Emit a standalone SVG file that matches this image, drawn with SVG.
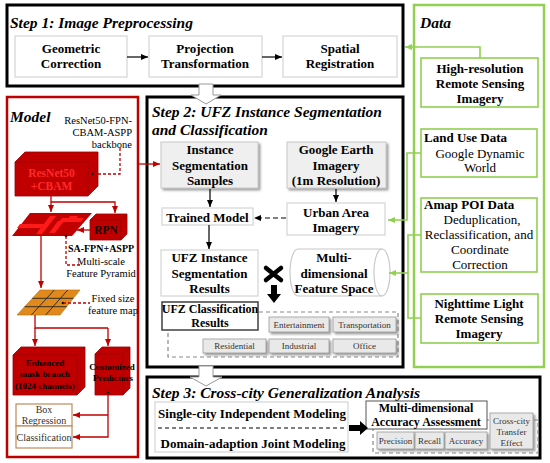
<svg xmlns="http://www.w3.org/2000/svg" width="550" height="463" viewBox="0 0 550 463">
<defs>
<style>
text{font-family:"Liberation Serif","Times New Roman",serif;fill:#000}
.t{font-size:15.5px;font-weight:bold;font-style:italic}
.b13{font-size:13px;font-weight:bold;text-anchor:middle}
.b12{font-size:12px;font-weight:bold;text-anchor:middle}
.bl13{font-size:13px;font-weight:bold}
.n13{font-size:13px;text-anchor:middle}
.n10{font-size:10.5px;text-anchor:middle}
.n9{font-size:9px;text-anchor:middle;fill:#333}
.b9{font-size:9px;font-weight:bold;text-anchor:middle}
.step{fill:#fff;stroke:#000;stroke-width:3}
.lg{fill:#fff;stroke:#d4d4d4;stroke-width:1.2}
.gb{fill:#efefef;stroke:#c8c8c8;stroke-width:1}
.sm{fill:#e9e9e9;stroke:#9a9a9a;stroke-width:0.8}
.grn{fill:#fff;stroke:#92d050;stroke-width:1.6}
.cube{fill:#c00000;stroke:#9a0000;stroke-width:0.8}
.ln{fill:none;stroke:#000;stroke-width:1.2}
.rl{fill:none;stroke:#c00000;stroke-width:1.3}
.gl{fill:none;stroke:#92d050;stroke-width:1.6}
.dash{fill:none;stroke:#888;stroke-width:1.2;stroke-dasharray:4 3}
</style>
<marker id="ab" markerWidth="8" markerHeight="8" refX="7" refY="4" orient="auto" markerUnits="userSpaceOnUse"><path d="M0,1 L7,4 L0,7 Z" fill="#000"/></marker>
<marker id="ar" markerWidth="8" markerHeight="8" refX="7" refY="4" orient="auto" markerUnits="userSpaceOnUse"><path d="M0,1 L7,4 L0,7 Z" fill="#c00000"/></marker>
<marker id="ag" markerWidth="8" markerHeight="8" refX="7" refY="4" orient="auto" markerUnits="userSpaceOnUse"><path d="M0,1 L7,4 L0,7 Z" fill="#92d050"/></marker>
<filter id="sh" x="-10%" y="-10%" width="130%" height="140%"><feDropShadow dx="2" dy="2" stdDeviation="1.2" flood-color="#777" flood-opacity="0.7"/></filter>
</defs>

<!-- Containers -->
<g id="step1">
<rect class="step" x="7" y="5" width="396" height="81"/>
<text class="t" x="10" y="28">Step 1: Image Preprocessing</text>
</g>
<g id="data">
<rect x="414" y="5" width="130" height="362" fill="#fff" stroke="#92d050" stroke-width="2.5"/>
<text class="t" x="420" y="28">Data</text>
</g>
<g id="model">
<rect x="7" y="97" width="131" height="360" fill="#fff" stroke="#c00000" stroke-width="2.5"/>
<text class="t" x="10" y="122">Model</text>
</g>
<g id="step2">
<rect class="step" x="147" y="97" width="256" height="270"/>
<text class="t" x="152" y="117">Step 2: UFZ Instance Segmentation</text>
<text class="t" x="152" y="135">and Classification</text>
</g>
<g id="step3">
<rect class="step" x="147" y="377" width="393" height="81"/>
<text class="t" x="152" y="398">Step 3: Cross-city Generalization Analysis</text>
</g>

<!-- hollow arrows between steps -->
<g id="hollow-arrows">
<path d="M199,84 L213,84 L213,95 L221,95 L206,104 L191,95 L199,95 Z" fill="#fff" stroke="#999" stroke-width="1"/>
<path d="M199,366 L213,366 L213,377 L222,377 L206,386 L190,377 L199,377 Z" fill="#fff" stroke="#999" stroke-width="1"/>
</g>

<!-- Step 1 nodes -->
<g id="geometric"><rect class="lg" x="15" y="36" width="112" height="41"/><text class="b13" x="71" y="52.5">Geometric</text><text class="b13" x="71" y="67.5">Correction</text></g>
<g id="projection"><rect class="lg" x="149" y="36" width="113" height="41"/><text class="b13" x="205" y="52.5">Projection</text><text class="b13" x="205" y="67.5">Transformation</text></g>
<g id="spatial"><rect class="lg" x="283" y="36" width="114" height="41"/><text class="b13" x="340" y="52.5">Spatial</text><text class="b13" x="340" y="67.5">Registration</text></g>

<!-- Data nodes -->
<g id="highres"><rect class="grn" x="421" y="58" width="117" height="49"/><text class="b13" x="480" y="72.5">High-resolution</text><text class="b13" x="480" y="87.5">Remote Sensing</text><text class="b13" x="480" y="102.5">Imagery</text></g>
<g id="landuse"><rect class="grn" x="421" y="129" width="116" height="48"/><text class="bl13" x="424" y="142">Land Use Data</text><text class="n13" x="480" y="157.5">Google Dynamic</text><text class="n13" x="480" y="172">World</text></g>
<g id="poi"><rect class="grn" x="421" y="198" width="116" height="74"/><text class="bl13" x="424" y="208.5">Amap POI Data</text><text class="n13" x="482" y="223.5">Deduplication,</text><text class="n13" x="479" y="238.5">Reclassification, and</text><text class="n13" x="480" y="253.5">Coordinate</text><text class="n13" x="480" y="269">Correction</text></g>
<g id="nightlight"><rect class="grn" x="421" y="294" width="117" height="49"/><text class="b13" x="479" y="307.5">Nighttime Light</text><text class="b13" x="479" y="322.5">Remote Sensing</text><text class="b13" x="479" y="337.5">Imagery</text></g>

<!-- Step 2 nodes -->
<g id="samples"><rect class="gb" x="161" y="142" width="97" height="46" filter="url(#sh)"/><text class="b13" x="210" y="153.5">Instance</text><text class="b13" x="210" y="169.5">Segmentation</text><text class="b13" x="210" y="184.5">Samples</text></g>
<g id="google"><rect class="gb" x="287" y="142" width="99" height="46" filter="url(#sh)"/><text class="b13" x="336" y="153.5">Google Earth</text><text class="b13" x="336" y="169.5">Imagery</text><text class="b13" x="336" y="184.5">(1m Resolution)</text></g>
<g id="trained"><rect class="lg" x="162" y="208" width="91" height="17"/><text class="b13" x="207.5" y="222">Trained Model</text></g>
<g id="urban"><rect class="lg" x="287" y="203" width="98" height="32"/><text class="b13" x="336" y="216.5">Urban Area</text><text class="b13" x="336" y="231.5">Imagery</text></g>
<g id="segresults"><rect class="lg" x="161" y="250" width="97" height="46"/><text class="b13" x="209.5" y="261.5">UFZ Instance</text><text class="b13" x="209.5" y="277.5">Segmentation</text><text class="b13" x="209.5" y="292.5">Results</text></g>
<g id="featurespace"><path d="M298,249 L382,249 A8,23.5 0 0 1 382,296 L298,296 A8,23.5 0 0 1 298,249 Z" fill="#fff" stroke="#c8c8c8" stroke-width="1.2"/><path d="M382,249 A8,23.5 0 0 0 382,296" fill="none" stroke="#c8c8c8" stroke-width="1.2"/><text class="b13" x="334" y="261.5">Multi-</text><text class="b13" x="334" y="277.5">dimensional</text><text class="b13" x="334" y="292.5">Feature Space</text></g>
<g id="cross-mark"><path d="M266,268 L281,280 M281,268 L266,280" stroke="#000" stroke-width="4.5" stroke-linecap="round"/></g>
<g id="classes-frame"><rect class="dash" x="168" y="312" width="230" height="45"/></g>
<g id="classresults"><rect x="162" y="302" width="96" height="28" fill="#fff" stroke="#404040" stroke-width="1.5"/><text class="b12" x="210" y="312.5">UFZ Classification</text><text class="b12" x="210" y="326.5">Results</text></g>
<g id="entertainment"><rect class="sm" x="269" y="317" width="60" height="15" filter="url(#sh)"/><text class="n9" x="299" y="327.5">Entertainment</text></g>
<g id="transportation"><rect class="sm" x="333" y="317" width="63" height="15" filter="url(#sh)"/><text class="n9" x="364.5" y="327.5">Transportation</text></g>
<g id="residential"><rect class="sm" x="203" y="339" width="63" height="14" filter="url(#sh)"/><text class="n9" x="234.5" y="349">Residential</text></g>
<g id="industrial"><rect class="sm" x="269" y="339" width="60" height="14" filter="url(#sh)"/><text class="n9" x="299" y="349">Industrial</text></g>
<g id="office"><rect class="sm" x="333" y="339" width="63" height="14" filter="url(#sh)"/><text class="n9" x="364.5" y="349">Office</text></g>

<!-- Step 3 nodes -->
<g id="modeling"><rect class="lg" x="155" y="402" width="193" height="50"/><text class="b13" x="252" y="417.5">Single-city Independent Modeling</text><line x1="158" y1="428" x2="345" y2="428" stroke="#000" stroke-width="1.2" stroke-dasharray="4 3"/><text class="b13" x="253" y="447.5">Domain-adaption Joint Modeling</text></g>
<g id="assess-frame"><rect class="dash" x="373" y="420" width="165" height="33"/></g>
<g id="assessment"><rect x="366" y="401" width="121" height="28" fill="#fff" stroke="#555" stroke-width="1"/><text class="b12" x="426" y="411.5">Multi-dimensional</text><text class="b12" x="426" y="425.5">Accuracy Assessment</text></g>
<g id="precision"><rect class="sm" x="377" y="432" width="37" height="17" filter="url(#sh)"/><text class="n9" x="395.5" y="443.5">Precision</text></g>
<g id="recall"><rect class="sm" x="415" y="432" width="29" height="17" filter="url(#sh)"/><text class="n9" x="429.5" y="443.5">Recall</text></g>
<g id="accuracy"><rect class="sm" x="445" y="432" width="42" height="17" filter="url(#sh)"/><text class="n9" x="466" y="443.5">Accuracy</text></g>
<g id="transfer"><rect class="sm" x="490" y="413" width="43" height="36" filter="url(#sh)"/><text class="n9" x="511.5" y="424">Cross-city</text><text class="n9" x="511.5" y="435">Transfer</text><text class="n9" x="511.5" y="445.5">Effect</text></g>

<!-- Model nodes -->
<g id="backbone-label"><text class="n10" x="132" y="123.5" style="text-anchor:end">ResNet50-FPN-</text><text class="n10" x="132" y="135.5" style="text-anchor:end">CBAM-ASPP</text><text class="n10" x="132" y="147.5" style="text-anchor:end">backbone</text></g>
<g id="resnet">
<path class="cube" d="M15,162 L25,152 L98,152 L98,186 L88,196 L15,196 Z"/>
<path d="M15,162 L88,162 L98,152 M88,162 L88,196" fill="none" stroke="#9a0000" stroke-width="0.8"/>
<text x="51.5" y="177" style="font-size:11.5px;font-weight:bold;text-anchor:middle;fill:#ff2a2a">ResNet50</text>
<text x="51.5" y="190" style="font-size:11.5px;font-weight:bold;text-anchor:middle;fill:#ff2a2a">+CBAM</text>
<circle cx="93" cy="174" r="1.3" fill="#000"/>
</g>
<g id="pyramid">
<path d="M30,213 L92,213 L72,236 L12,236 Z" fill="#c00000"/>
<path d="M20,224 L44,224 L41,228 L17,228 Z" fill="#ff1a1a"/>
<path d="M50,216 L56,216 L42,234 L36,234 Z" fill="#ff1a1a"/>
<path d="M58,221 L64,221 L55,233 L49,233 Z" fill="#ff1a1a"/>
<path d="M62,218 L84,218 L81,222 L59,222 Z" fill="#ff1a1a"/>
<path d="M70,216 L78,216 L76,219 L68,219 Z" fill="#ff1a1a"/>
<circle cx="66" cy="236" r="1.3" fill="#000"/>
</g>
<g id="rpn">
<path class="cube" d="M90,220 L96,214 L127,214 L127,234 L121,240 L90,240 Z"/>
<path d="M90,220 L121,220 L127,214 M121,220 L121,240" fill="none" stroke="#9a0000" stroke-width="0.8"/>
<text x="106" y="234" style="font-size:11.5px;font-weight:bold;text-anchor:middle;fill:#1a0000">RPN</text>
</g>
<g id="pyramid-label"><text x="101" y="251.5" style="font-size:10px;font-weight:bold;text-anchor:middle">SA-FPN+ASPP</text><text class="n10" x="101" y="264.5">Multi-scale</text><text class="n10" x="101" y="276.5">Feature Pyramid</text></g>
<g id="featuremap">
<path d="M40,290 L80,290 L60,315 L17,315 Z" fill="#e08a1e" stroke="#c06a00" stroke-width="0.6"/>
<path d="M32.3,298.3 L73.3,298.3 M24.7,306.7 L66.7,306.7 M54.3,290 L31.3,315 M67.7,290 L45.7,315" stroke="#222" stroke-width="0.9" fill="none"/>
<circle cx="63" cy="303" r="1.3" fill="#000"/>
</g>
<g id="featuremap-label"><text class="n10" x="113" y="301.5">Fixed size</text><text class="n10" x="113" y="313.5">feature map</text></g>
<g id="mask">
<path class="cube" d="M13,355 L21,347 L85,347 L85,387 L77,395 L13,395 Z"/>
<path d="M13,355 L77,355 L85,347 M77,355 L77,395" fill="none" stroke="#9a0000" stroke-width="0.8"/>
<text class="b9" x="45" y="366">Enhanced</text><text class="b9" x="45" y="377">mask branch</text><text class="b9" x="45" y="389">(1024 channels)</text>
</g>
<g id="predictors">
<path class="cube" d="M95,354 L102,347 L130,347 L130,388 L123,395 L95,395 Z"/>
<path d="M95,354 L123,354 L130,347 M123,354 L123,395" fill="none" stroke="#9a0000" stroke-width="0.8"/>
<text class="b9" x="112" y="370">Customized</text><text class="b9" x="113" y="381">Predictors</text>
<circle cx="108" cy="393" r="1.3" fill="#000"/>
</g>
<g id="boxreg"><rect x="16" y="404" width="56" height="22" fill="#fff" stroke="#c0895a" stroke-width="1.2"/><text class="n9" x="44" y="413" style="font-size:10px">Box</text><text class="n9" x="44" y="423.5" style="font-size:10px">Regression</text></g>
<g id="classification"><rect x="16" y="426" width="56" height="22" fill="#fff" stroke="#c0895a" stroke-width="1.2"/><text class="n9" x="44" y="440.5" style="font-size:10px">Classification</text></g>

<!-- Connectors -->
<g id="connectors">
<line class="ln" x1="127" y1="57" x2="148" y2="57" marker-end="url(#ab)"/>
<line class="ln" x1="262" y1="57" x2="282" y2="57" marker-end="url(#ab)"/>
<line class="ln" x1="210" y1="189" x2="210" y2="207" marker-end="url(#ab)"/>
<line class="ln" x1="336" y1="189" x2="336" y2="202" marker-end="url(#ab)"/>
<line class="ln" x1="286" y1="218" x2="254" y2="218" stroke-dasharray="5 3" marker-end="url(#ab)"/>
<line class="ln" x1="209" y1="225" x2="209" y2="249" marker-end="url(#ab)"/>
<path d="M271,285 L277,285 L277,294 L281,294 L274,303 L267,294 L271,294 Z" fill="#000"/>
<path d="M349,425 L360,425 L360,421 L368,428 L360,435 L360,431 L349,431 Z" fill="#000"/>
<polyline class="gl" points="480,58 480,47 405,47" marker-end="url(#ag)"/>
<polyline class="gl" points="421,153 407,153 407,220 388,220" marker-end="url(#ag)"/>
<polyline class="gl" points="421,235 408,235 408,318 421,318"/>
<line class="gl" x1="408" y1="273" x2="389" y2="273" marker-end="url(#ag)"/>
<polyline class="rl" points="93,174 120,174 120,148" stroke-dasharray="3 2"/>
<line class="rl" x1="138" y1="164" x2="160" y2="164" marker-end="url(#ar)"/>
<line class="rl" x1="51" y1="196" x2="51" y2="212" marker-end="url(#ar)"/>
<polyline class="rl" points="51,202 115,202 115,213" marker-end="url(#ar)"/>
<line class="rl" x1="90" y1="230" x2="77" y2="230" marker-end="url(#ar)"/>
<line class="rl" x1="41" y1="236" x2="41" y2="288" marker-end="url(#ar)"/>
<polyline class="rl" points="66,236 66,265 80,265" stroke-dasharray="3 2"/>
<line class="rl" x1="63" y1="303" x2="90" y2="303" stroke-dasharray="3 2"/>
<polyline class="rl" points="35,315 35,328 108,328"/>
<line class="rl" x1="35" y1="328" x2="35" y2="346" marker-end="url(#ar)"/>
<line class="rl" x1="108" y1="328" x2="108" y2="346" marker-end="url(#ar)"/>
<polyline class="rl" points="108,393 108,437 73,437" marker-end="url(#ar)"/>
<line class="rl" x1="108" y1="415" x2="73" y2="415" marker-end="url(#ar)"/>
</g>
</svg>
